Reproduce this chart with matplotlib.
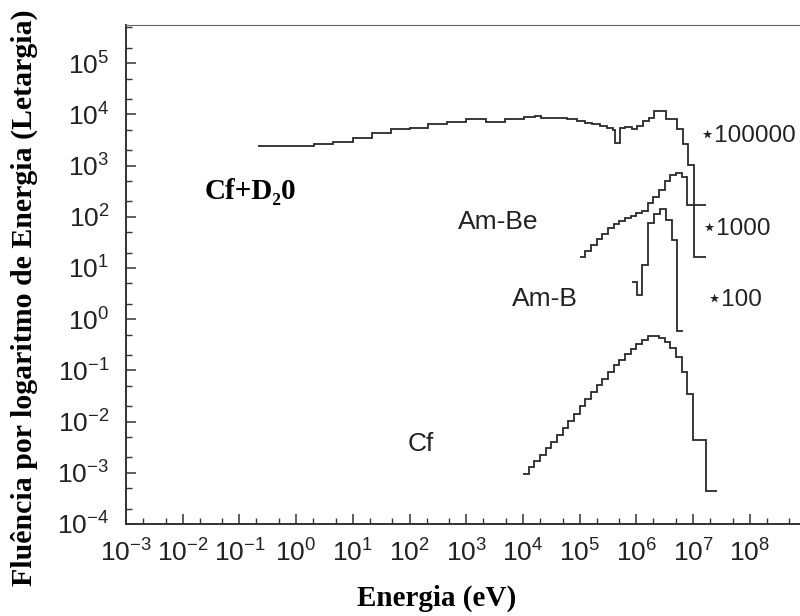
import numpy as np
import matplotlib
matplotlib.use('Agg')
import matplotlib.pyplot as plt
from matplotlib.ticker import LogLocator, NullFormatter

# bin edges (eV) and fluence per lethargy
cfd2o_edges = [0.21, 2.1, 4.5, 10, 21.5, 46.6, 101, 215, 464, 1000, 2210, 4770,
               1.05e4, 1.63e4, 2.09e4, 5.9e4, 8.9e4, 1.24e5, 1.63e5, 2.29e5, 3.0e5,
               3.93e5, 4.2e5, 5.16e5, 6.3e5, 8.3e5, 1.04e6, 1.33e6, 1.69e6, 2.05e6,
               3.34e6, 5.16e6, 6.67e6, 8.0e6, 1.06e7, 1.69e7]
cfd2o_vals = [2420, 2680, 2930, 3410, 4400, 5120, 5360, 6640, 7010, 8020, 6950,
              8240, 8890, 9390, 8580, 8130, 7430, 6890, 6410, 5930, 5500, 4850,
              2730, 5360, 5670, 5120, 5810, 7430, 8390, 11600, 8130, 5190, 2640,
              1050, 16.6]

ambe_edges = [1.0e5, 1.26e5, 1.58e5, 2.0e5, 2.51e5, 3.16e5, 3.98e5, 5.01e5, 6.31e5,
              7.94e5, 1.0e6, 1.26e6, 1.58e6, 2.0e6, 2.51e6, 3.16e6, 3.98e6, 5.01e6,
              6.31e6, 7.94e6, 1.69e7]
ambe_vals = [16.6, 21.8, 28.1, 36.4, 46.1, 59.6, 72.3, 82.8, 93.5, 104, 117, 131.5,
             186, 244, 334, 500, 655, 701, 612, 170]

amb_edges = [8.3e5, 1.04e6, 1.28e6, 1.63e6, 2.04e6, 2.59e6, 3.30e6, 4.21e6, 5.16e6, 6.74e6]
amb_vals = [5.33, 2.93, 11.5, 75.7, 113, 142, 86.6, 35.2, 0.589]

cf_edges = [1.0e4, 1.26e4, 1.58e4, 2.0e4, 2.51e4, 3.16e4, 3.98e4, 5.01e4, 6.31e4,
            7.94e4, 1.0e5, 1.26e5, 1.58e5, 2.0e5, 2.51e5, 3.16e5, 3.98e5, 5.01e5,
            6.31e5, 7.94e5, 1.0e6, 1.26e6, 1.58e6, 2.0e6, 2.51e6, 3.16e6, 3.98e6,
            5.01e6, 6.31e6, 7.94e6, 1.0e7, 1.69e7, 2.65e7]
cf_vals = [9.35e-4, 1.27e-3, 1.70e-3, 2.23e-3, 2.99e-3, 4.08e-3, 5.47e-3, 7.50e-3,
           1.03e-2, 1.41e-2, 2.02e-2, 2.76e-2, 3.78e-2, 5.07e-2, 6.79e-2, 9.31e-2,
           0.125, 0.163, 0.209, 0.262, 0.321, 0.393, 0.470, 0.470, 0.420, 0.351,
           0.274, 0.183, 0.0931, 0.0346, 4.38e-3, 4.42e-4]

plt.rcParams['font.family'] = ['Liberation Sans', 'DejaVu Sans']
plt.rcParams['mathtext.fontset'] = 'custom'
plt.rcParams['mathtext.rm'] = 'Liberation Sans'
plt.rcParams['axes.unicode_minus'] = False

fig = plt.figure(figsize=(8, 6.16), dpi=100)
ax = fig.add_axes([0.1575, 0.1494, 0.8425, 0.81])

lc = '#2a2a2a'
for e, v in [(cfd2o_edges, cfd2o_vals), (ambe_edges, ambe_vals),
             (amb_edges, amb_vals), (cf_edges, cf_vals)]:
    ax.stairs(v, e, baseline=None, color=lc, lw=1.3)

ax.set_xscale('log')
ax.set_yscale('log')
ax.set_xlim(1e-3, 10 ** 8.887)
ax.set_ylim(1e-4, 10 ** 5.746)

ax.xaxis.set_major_locator(LogLocator(base=10, numticks=20))
ax.yaxis.set_major_locator(LogLocator(base=10, numticks=20))
ax.xaxis.set_minor_locator(LogLocator(base=10, subs=(2, 5), numticks=20))
ax.yaxis.set_minor_locator(LogLocator(base=10, subs=(2, 5), numticks=20))
ax.xaxis.set_minor_formatter(NullFormatter())
ax.yaxis.set_minor_formatter(NullFormatter())
ax.tick_params(which='major', direction='in', length=7.5, width=1.1, color='#333333',
               labelsize=19, labelcolor='#222222', top=False, right=False)
ax.tick_params(axis='y', which='major', pad=12)
ax.tick_params(axis='x', which='major', pad=11)
ax.tick_params(which='minor', direction='in', length=4, width=1.0, color='#333333',
               top=False, right=False)

ax.spines['right'].set_visible(False)
ax.spines['top'].set_color('#666666')
ax.spines['top'].set_linewidth(0.8)
ax.spines['left'].set_linewidth(1.4)
ax.spines['bottom'].set_linewidth(1.4)
ax.spines['left'].set_color('#333333')
ax.spines['bottom'].set_color('#333333')

serif = ['Liberation Serif', 'DejaVu Serif']
ax.set_xlabel('Energia (eV)', family=serif, fontweight='bold', fontsize=21)
ax.set_ylabel('Fluência por logaritmo de Energia (Letargia)', family=serif,
              fontweight='bold', fontsize=21.5)
ax.xaxis.set_label_coords(0.461, -0.122)
ax.yaxis.set_label_coords(-0.131, 0.453)

sans = ['Liberation Sans', 'DejaVu Sans']
ax.text(0.154, 305, 'Cf+D\u20820', family=serif, fontweight='bold', fontsize=21,
        ha='center', va='center')
ax.text(3640, 79.1, 'Am-Be', family=sans, fontsize=19, ha='center', va='center', color='#222222')
ax.text(2.45e4, 2.48, 'Am-B', family=sans, fontsize=19, ha='center', va='center', color='#222222')
ax.text(160, 3.65e-3, 'Cf', family=sans, fontsize=19, ha='center', va='center', color='#222222')
ax.text(1.30e7, 3.79e3, '\u22c6100000', family=sans, fontsize=17.5, ha='left', va='center', color='#222222')
ax.text(1.40e7, 57.8, '\u22c61000', family=sans, fontsize=17.5, ha='left', va='center', color='#222222')
ax.text(1.70e7, 2.37, '\u22c6100', family=sans, fontsize=17.5, ha='left', va='center', color='#222222')

fig.savefig('out.png', dpi=100)
